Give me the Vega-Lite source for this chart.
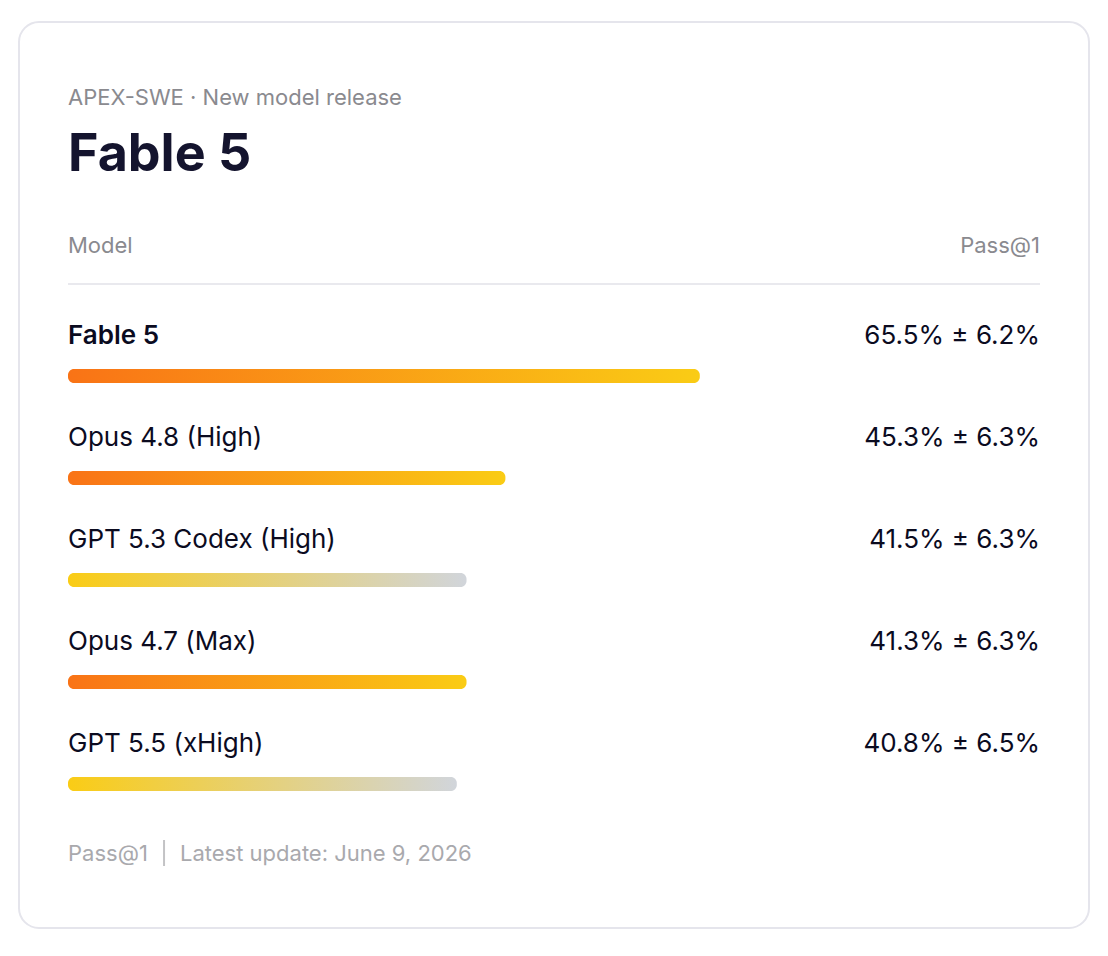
{
  "$schema": "https://vega.github.io/schema/vega-lite/v6.json",
  "width": 1070,
  "height": 906,
  "autosize": "none",
  "padding": {"left": 19, "top": 22, "right": 19, "bottom": 28},
  "background": "#ffffff",
  "view": {"fill": "#ffffff", "stroke": "#e5e5ec", "strokeWidth": 2, "cornerRadius": 20},
  "datasets": {
    "models": [
      {"row": "Fable 5", "bar": 65, "vendor": "anthropic", "score": "65.5% ± 6.2%"},
      {"row": "Opus 4.8 (High)", "bar": 45, "vendor": "anthropic", "score": "45.3% ± 6.3%"},
      {"row": "GPT 5.3 Codex (High)", "bar": 41, "vendor": "openai", "score": "41.5% ± 6.3%"},
      {"row": "Opus 4.7 (Max)", "bar": 41, "vendor": "anthropic", "score": "41.3% ± 6.3%"},
      {"row": "GPT 5.5 (xHigh)", "bar": 40, "vendor": "openai", "score": "40.8% ± 6.5%"}
    ]
  },
  "encoding": {
    "x": {
      "type": "quantitative",
      "axis": null,
      "scale": {"domain": [-5.041, 105.041], "nice": false, "zero": false}
    },
    "y": {
      "field": "row",
      "type": "nominal",
      "axis": null,
      "scale": {
        "type": "point",
        "padding": 0,
        "range": [109, 823],
        "domain": ["title", "head", "Fable 5", "Opus 4.8 (High)", "GPT 5.3 Codex (High)", "Opus 4.7 (Max)", "GPT 5.5 (xHigh)", "footer"]
      }
    }
  },
  "layer": [
    {
      "data": {"values": [{"row": "title", "text": "APEX-SWE · New model release"}]},
      "mark": {"type": "text", "align": "left", "baseline": "middle", "dy": -33, "font": "Inter", "fontSize": 22, "color": "#8a8a8f"},
      "encoding": {"x": {"datum": 0}, "text": {"field": "text"}}
    },
    {
      "data": {"values": [{"row": "title", "text": "Fable 5"}]},
      "mark": {"type": "text", "align": "left", "baseline": "middle", "dy": 24, "font": "Inter", "fontSize": 52, "fontWeight": 700, "color": "#14142e"},
      "encoding": {"x": {"datum": 0}, "text": {"field": "text"}}
    },
    {
      "data": {"values": [{"row": "head", "text": "Model"}]},
      "mark": {"type": "text", "align": "left", "baseline": "middle", "dy": 13, "font": "Inter", "fontSize": 22, "color": "#8a8a8f"},
      "encoding": {"x": {"datum": 0}, "text": {"field": "text"}}
    },
    {
      "data": {"values": [{"row": "head", "text": "Pass@1"}]},
      "mark": {"type": "text", "align": "right", "baseline": "middle", "dy": 13, "font": "Inter", "fontSize": 22, "color": "#8a8a8f"},
      "encoding": {"x": {"datum": 100}, "text": {"field": "text"}}
    },
    {
      "data": {"values": [{"row": "head"}]},
      "mark": {"type": "rule", "color": "#e9e9ee", "strokeWidth": 2, "yOffset": 51},
      "encoding": {"x": {"datum": 0}, "x2": {"datum": 100}}
    },
    {
      "data": {"name": "models"},
      "transform": [{"filter": "datum.row === 'Fable 5'"}],
      "mark": {"type": "text", "align": "left", "baseline": "middle", "dy": 1, "font": "Inter", "fontSize": 26, "fontWeight": 600, "color": "#0b0b1f"},
      "encoding": {"x": {"datum": 0}, "text": {"field": "row"}}
    },
    {
      "data": {"name": "models"},
      "transform": [{"filter": "datum.row !== 'Fable 5'"}],
      "mark": {"type": "text", "align": "left", "baseline": "middle", "dy": 1, "font": "Inter", "fontSize": 26, "color": "#0b0b1f"},
      "encoding": {"x": {"datum": 0}, "text": {"field": "row"}}
    },
    {
      "data": {"name": "models"},
      "mark": {"type": "text", "align": "right", "baseline": "middle", "dy": 1, "font": "Inter", "fontSize": 26, "color": "#0b0b1f"},
      "encoding": {"x": {"datum": 100}, "text": {"field": "score"}}
    },
    {
      "data": {"name": "models"},
      "transform": [{"filter": "datum.vendor === 'anthropic'"}],
      "mark": {
        "type": "bar",
        "height": 14,
        "cornerRadius": 6,
        "yOffset": 41,
        "color": {"gradient": "linear", "x1": 0, "x2": 1, "y1": 0, "y2": 0, "stops": [{"offset": 0, "color": "#f97316"}, {"offset": 1, "color": "#facc15"}]}
      },
      "encoding": {"x": {"field": "bar", "type": "quantitative"}, "x2": {"datum": 0}}
    },
    {
      "data": {"name": "models"},
      "transform": [{"filter": "datum.vendor === 'openai'"}],
      "mark": {
        "type": "bar",
        "height": 14,
        "cornerRadius": 6,
        "yOffset": 41,
        "color": {"gradient": "linear", "x1": 0, "x2": 1, "y1": 0, "y2": 0, "stops": [{"offset": 0, "color": "#facc15"}, {"offset": 1, "color": "#d1d5db"}]}
      },
      "encoding": {"x": {"field": "bar", "type": "quantitative"}, "x2": {"datum": 0}}
    },
    {
      "data": {"values": [{"row": "footer", "text": "Pass@1"}]},
      "mark": {"type": "text", "align": "left", "baseline": "middle", "dy": 9, "font": "Inter", "fontSize": 22, "color": "#a9a9ad"},
      "encoding": {"x": {"datum": 0}, "text": {"field": "text"}}
    },
    {
      "data": {"values": [{"row": "footer"}]},
      "mark": {"type": "tick", "orient": "vertical", "size": 26, "thickness": 2, "yOffset": 8, "color": "#a9a9ad"},
      "encoding": {"x": {"datum": 9.88}}
    },
    {
      "data": {"values": [{"row": "footer", "text": "Latest update: June 9, 2026"}]},
      "mark": {"type": "text", "align": "left", "baseline": "middle", "dy": 9, "font": "Inter", "fontSize": 22, "color": "#a9a9ad"},
      "encoding": {"x": {"datum": 11.52}, "text": {"field": "text"}}
    }
  ],
  "resolve": {"scale": {"x": "shared", "y": "shared"}}
}
